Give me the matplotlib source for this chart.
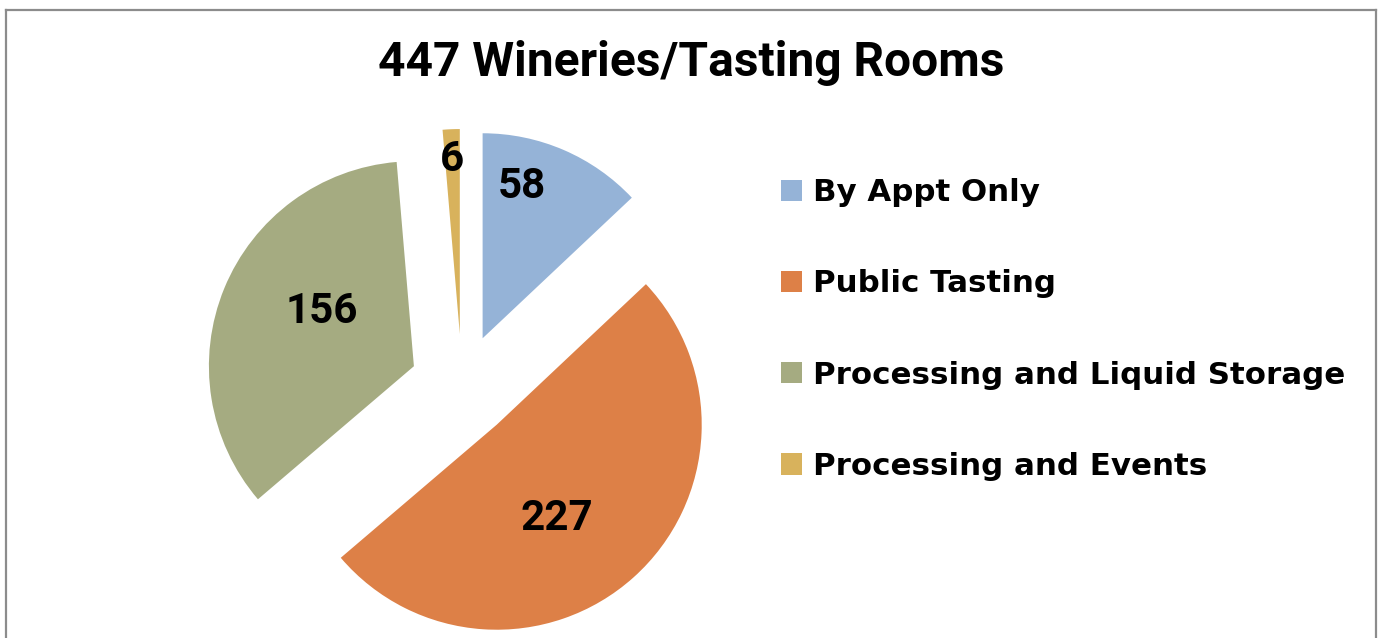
import math
import matplotlib
matplotlib.use("Agg")
import matplotlib.pyplot as plt
from matplotlib.lines import Line2D

plt.rcParams['font.family'] = ['Roboto', 'DejaVu Sans']

title = '447 Wineries/Tasting Rooms'
categories = ['By Appt Only', 'Public Tasting', 'Processing and Liquid Storage', 'Processing and Events']
counts = [58, 227, 156, 6]
colors = ['#95B3D7', '#DD8047', '#A5AB81', '#D8B25C']

# label placement tweaks (fraction of radius, angle offset in degrees)
label_r = [0.78, 0.53, 0.53, 0.87]
label_dt = [9, -8, -10, 0]

W, H = 1379, 638
fig = plt.figure(figsize=(W / 100, H / 100), dpi=100)
ax = fig.add_axes([0, 0, 1, 1])

radius = 205
wedges, _ = ax.pie(counts, colors=colors, startangle=90, counterclock=False,
                   center=(462, 252), radius=radius, explode=[52] * len(counts),
                   frame=True)
ax.set_xlim(0, W)
ax.set_ylim(0, H)
ax.set_aspect('equal')
ax.axis('off')

lab_fs = 30.3
for w, n, fr, dt in zip(wedges, counts, label_r, label_dt):
    mid = math.radians((w.theta1 + w.theta2) / 2 + dt)
    cx, cy = w.center
    x = cx + w.r * fr * math.cos(mid)
    y = cy + w.r * fr * math.sin(mid)
    ax.text(x, y - 0.355 * lab_fs * 100 / 72, str(n), ha='center', va='baseline',
            fontsize=lab_fs, fontweight='bold', color='black')

ax.text(691, H - 75.7, title, ha='center', va='baseline', fontsize=34.5,
        fontweight='bold', color='black')

ax.legend(wedges, categories, loc='upper left', bbox_to_anchor=(781 / W, 1 - 178 / H),
          bbox_transform=fig.transFigure, frameon=False,
          prop={'family': 'DejaVu Sans', 'size': 22.2, 'weight': 'bold'},
          handlelength=0.68, handleheight=0.68, handletextpad=0.35, labelspacing=2.02,
          borderpad=0, borderaxespad=0)

# chart border (bottom edge is off the picture)
bc = '#8C8C8C'
fig.add_artist(Line2D([6, 6], [-5, H - 10], transform=None, color=bc, lw=1.6))
fig.add_artist(Line2D([6, 1376], [H - 10, H - 10], transform=None, color=bc, lw=1.6))
fig.add_artist(Line2D([1376, 1376], [H - 10, -5], transform=None, color=bc, lw=1.6))

fig.savefig('out.png', dpi=100)
